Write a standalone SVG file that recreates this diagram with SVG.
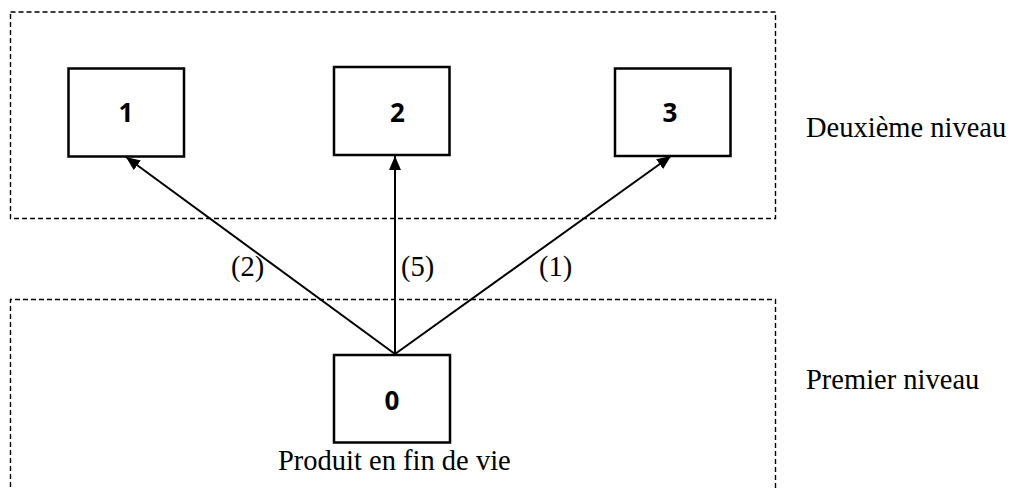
<svg xmlns="http://www.w3.org/2000/svg" width="1017" height="489" viewBox="0 0 1017 489">
<style>
.zone{fill:none;stroke:#000;stroke-width:1.4;stroke-dasharray:5 3}
.box{fill:#fff;stroke:#000;stroke-width:2.5}
.num{font-family:"Open Sans","Liberation Sans",sans-serif;font-weight:bold;font-size:26px;text-anchor:middle;fill:#000}
.lbl{font-family:"Liberation Serif","DejaVu Serif",serif;font-size:28.5px;fill:#000}
.conn{stroke:#000;stroke-width:2;fill:none}
</style>
<defs>
<marker id="arr" viewBox="0 0 14 12" refX="14" refY="6" markerWidth="14" markerHeight="12" markerUnits="userSpaceOnUse" orient="auto">
<path d="M0,0 L14,6 L0,12 Z" fill="#000"/>
</marker>
</defs>
<g id="level2">
<rect class="zone" x="10.5" y="12" width="765" height="206.5"/>
<text class="lbl" x="806" y="137">Deuxième niveau</text>
</g>
<g id="level1">
<path class="zone" d="M10.5,495 L10.5,299.5 L775.5,299.5 L775.5,495"/>
<text class="lbl" x="806" y="389">Premier niveau</text>
</g>
<g id="connectors">
<line class="conn" x1="395" y1="354" x2="126" y2="157" marker-end="url(#arr)"/>
<line class="conn" x1="395" y1="354" x2="395" y2="156" marker-end="url(#arr)"/>
<line class="conn" x1="395" y1="354" x2="671" y2="156" marker-end="url(#arr)"/>
<text class="lbl" x="231" y="276">(2)</text>
<text class="lbl" x="401" y="276">(5)</text>
<text class="lbl" x="539" y="276">(1)</text>
</g>
<g id="node1">
<rect class="box" x="68.5" y="68.5" width="115.5" height="88"/>
<text class="num" x="126" y="122">1</text>
</g>
<g id="node2">
<rect class="box" x="334" y="67" width="115.5" height="88"/>
<text class="num" x="397.5" y="122">2</text>
</g>
<g id="node3">
<rect class="box" x="615" y="68.5" width="115.5" height="87.5"/>
<text class="num" x="670" y="122">3</text>
</g>
<g id="node0">
<rect class="box" x="334" y="355" width="116" height="87.5"/>
<text class="num" x="392" y="410">0</text>
<text class="lbl" x="278" y="470">Produit en fin de vie</text>
</g>
</svg>
